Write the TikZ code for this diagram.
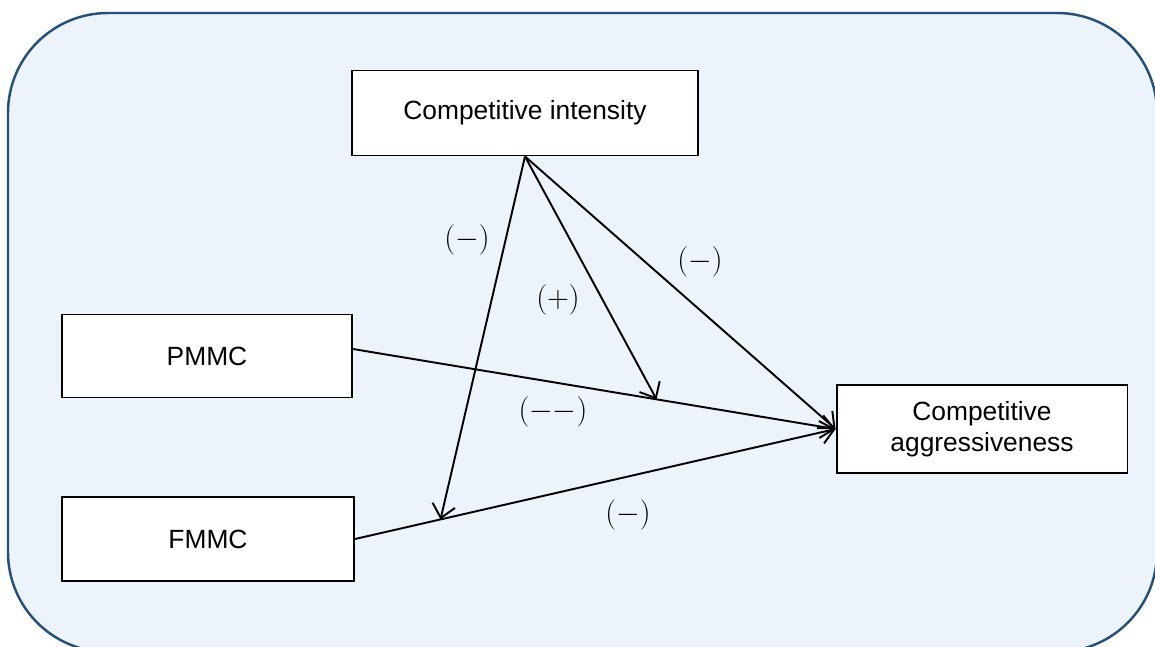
\documentclass[tikz,border=0pt]{standalone}
\usepackage{fontspec}
\setmainfont{Liberation Sans}
\usetikzlibrary{arrows.meta}
\definecolor{frameblue}{RGB}{38,80,124}
\definecolor{paleblue}{RGB}{236,243,250}
\begin{document}
\begin{tikzpicture}[x=0.02cm,y=-0.02cm,
  box/.style={draw,line width=1.1pt,fill=white,align=center,font=\fontsize{15}{18}\selectfont},
  link/.style={line width=1.1pt,-{Straight Barb[length=2.6mm,width=4.6mm]}},
  sign/.style={font=\fontsize{17}{20}\selectfont}]
\useasboundingbox (0,0) rectangle (1155,646);
\clip (0,0) rectangle (1155,646);
\draw[frameblue,fill=paleblue,line width=1.4pt,rounded corners=2cm] (8,13) rectangle (1157,652);
\node[box,minimum width=6.92cm,minimum height=1.7cm] (ci) at (525,113) {Competitive intensity};
\node[box,minimum width=5.8cm,minimum height=1.66cm] (pmmc) at (207,356) {PMMC};
\node[box,minimum width=5.84cm,minimum height=1.68cm] (fmmc) at (208,539) {FMMC};
\node[box,minimum width=5.82cm,minimum height=1.76cm] (ca) at (982,429) {Competitive\\aggressiveness};
\draw[link] ([yshift=0.14cm]pmmc.east) -- coordinate[pos=0.629] (pm) (ca.west);
\draw[link] (fmmc.east) -- coordinate[pos=0.178] (fm) (ca.west);
\draw[link] (ci.south) -- (ca.west);
\draw[link] (ci.south) -- (pm);
\draw[link] (ci.south) -- (fm);
\foreach \name/\x/\y/\txt in {ciFm/467/240/(-), ciPm/558/300/(+), ciCa/700/262/(-),
                              pmCa/553/412/(--), fmCa/628/515/(-)} {
  \node[sign] (\name) at (\x,\y) {$\txt$};
}
\end{tikzpicture}
\end{document}
